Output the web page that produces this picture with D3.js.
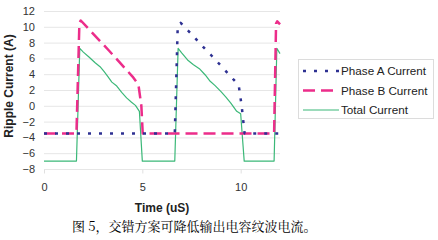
<!DOCTYPE html>
<html>
<head>
<meta charset="utf-8">
<script src="https://cdn.jsdelivr.net/npm/d3@7"></script>
<style>
  body { margin: 0; background: #fff; }
  svg { display: block; font-family: "Liberation Sans", Arial, sans-serif; }
</style>
</head>
<body>
<div id="chart"></div>
<script>
// Series values: [time (uS), current (A)]
const phaseA = [
  [0, -3.5], [6.65, -3.5], [6.8, 10.1], [6.95, 10.5], [7.45, 9.2], [8.0, 7.7],
  [8.5, 6.4], [9.06, 4.9], [9.5, 3.7], [9.9, 2.6], [10.05, 0], [10.2, -3.5], [12, -3.5]
];
const phaseB = [
  [0, -3.5], [1.65, -3.5], [1.8, 10.5], [1.87, 10.8], [3.3, 7.0], [4.5, 3.7],
  [4.8, 2.7], [4.95, 0], [5.02, -3.5], [11.7, -3.5], [11.8, 10.4], [11.86, 10.7], [12, 10.3]
];
const totalCurrent = [
  [0, -7], [1.65, -7], [1.82, 7.28], [2.0, 6.8], [2.3, 6.15], [2.6, 5.45], [2.85, 4.95],
  [3.05, 4.35], [3.25, 3.7], [3.45, 3.0], [3.7, 2.5], [3.95, 1.7], [4.2, 1.0], [4.45, 0.45],
  [4.65, 0.05], [4.85, -0.7], [5.0, -7], [6.65, -7], [6.82, 7.28], [7.0, 6.7], [7.3, 5.8],
  [7.6, 5.2], [7.9, 4.7], [8.2, 3.9], [8.45, 3.1], [8.7, 2.55], [9.0, 1.8], [9.25, 1.1],
  [9.5, 0.35], [9.8, -0.7], [10.0, -1.0], [10.18, -7], [11.7, -7], [11.84, 7.28], [12, 6.6]
];
const seriesNames = ["Phase A Current", "Phase B Current", "Total Current"];
const xTicks = [0, 5, 10];
const yTicks = [-8, -6, -4, -2, 0, 2, 4, 6, 8, 10, 12];
const caption = "图 5，交错方案可降低输出电容纹波电流。";

const width = 438;
const height = 240;

const svg = d3.select("#chart").append("svg").attr("width", width).attr("height", height);

const x = d3.scaleLinear().domain([0, 12]).range([44, 280]);
const y = d3.scaleLinear().domain([-8, 12]).range([169, 11]);

// horizontal gridlines
svg.append("g")
  .selectAll("line")
  .data(yTicks)
  .enter()
  .append("line")
  .attr("x1", x(0))
  .attr("x2", x(12))
  .attr("y1", (d) => y(d) + 0.5)
  .attr("y2", (d) => y(d) + 0.5)
  .attr("stroke", "#e6e6e6")
  .attr("stroke-width", 1);

// y axis labels
const yAxis = d3.axisLeft(y).tickValues(yTicks).tickSize(0).tickPadding(9);
svg.append("g")
  .attr("transform", `translate(${x(0)},0)`)
  .call(yAxis)
  .call((g) => g.select(".domain").remove())
  .call((g) => g.selectAll("text").attr("fill", "#333").style("font-size", "11px"));

// x axis ticks + labels
const xAxis = d3.axisBottom(x).tickValues(xTicks).tickSize(4).tickPadding(10);
svg.append("g")
  .attr("transform", `translate(0,${y(-8) + 0.5})`)
  .call(xAxis)
  .call((g) => g.select(".domain").remove())
  .call((g) => g.selectAll("line").attr("stroke", "#e0e0e0"))
  .call((g) => g.selectAll("text").attr("fill", "#333").style("font-size", "11px"));

// axis titles
svg.append("text")
  .attr("x", (x(0) + x(12)) / 2)
  .attr("y", 212)
  .attr("text-anchor", "middle")
  .attr("font-weight", "bold")
  .attr("font-size", 12)
  .attr("fill", "#222")
  .text("Time (uS)");

svg.append("text")
  .attr("transform", "translate(13,86) rotate(-90)")
  .attr("text-anchor", "middle")
  .attr("font-weight", "bold")
  .attr("font-size", 12)
  .attr("fill", "#222")
  .text("Ripple Current (A)");

const line = d3.line().x((d) => x(d[0])).y((d) => y(d[1]));

const styles = [
  { color: "#2e3192", width: 2.5, dash: "3,8" },
  { color: "#ec2d8a", width: 2.5, dash: "12,6" },
  { color: "#3bb878", width: 1.2, dash: null }
];
const data = [phaseA, phaseB, totalCurrent];

// draw total first so dashed phases sit on top
[2, 1, 0].forEach((i) => {
  svg.append("path")
    .datum(data[i])
    .attr("d", line)
    .attr("fill", "none")
    .attr("stroke", styles[i].color)
    .attr("stroke-width", styles[i].width)
    .attr("stroke-dasharray", styles[i].dash)
    .attr("stroke-linejoin", "round");
});

// legend
const legend = svg.append("g");
legend.append("rect")
  .attr("x", 298.5)
  .attr("y", 59.5)
  .attr("width", 135)
  .attr("height", 59)
  .attr("fill", "#fff")
  .attr("stroke", "#dcdcdc");

seriesNames.forEach((name, i) => {
  const ly = 71 + i * 19.5;
  legend.append("line")
    .attr("x1", 303)
    .attr("x2", 339)
    .attr("y1", ly)
    .attr("y2", ly)
    .attr("stroke", styles[i].color)
    .attr("stroke-width", styles[i].width)
    .attr("stroke-dasharray", styles[i].dash);
  legend.append("text")
    .attr("x", 341)
    .attr("y", ly + 4)
    .attr("font-size", 11.7)
    .attr("fill", "#222")
    .text(name);
});

// caption
svg.append("text")
  .attr("x", 72)
  .attr("y", 231)
  .attr("font-size", 13)
  .attr("fill", "#000")
  .style("font-family", '"Noto Serif CJK SC", "Noto Sans CJK SC", serif')
  .text(caption);
</script>
</body>
</html>
